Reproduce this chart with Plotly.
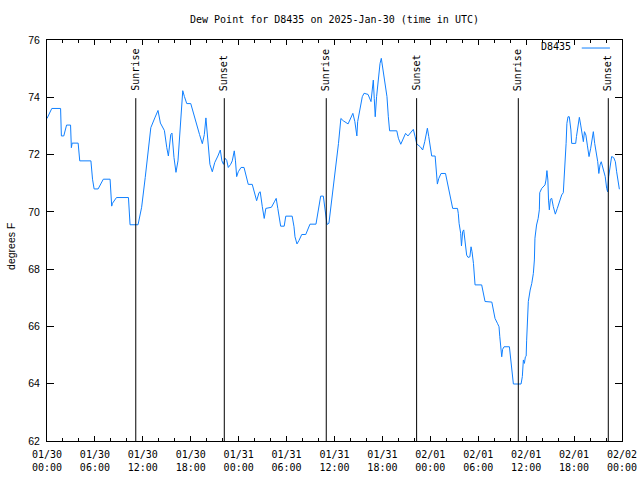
import pandas as pd
import plotly.graph_objects as go

start = pd.Timestamp("2025-01-30 00:00")

# hours after 01/30 00:00 UTC
hours = [
    0.00, 0.60, 1.70, 1.80, 2.10, 2.35, 2.45, 2.95, 3.05, 3.15, 3.90, 4.10, 5.50, 5.70, 5.90,
    6.40, 6.75, 7.05, 7.90, 8.10, 8.20, 8.70, 10.20, 10.40, 11.40, 11.85, 12.30, 12.70, 13.00,
    13.50, 13.90, 14.20, 14.70, 15.00, 15.20, 15.50, 15.65, 15.90, 16.15, 16.40, 16.65, 16.90,
    17.00, 17.20, 17.50, 18.00, 18.30, 18.70, 19.10, 19.45, 19.70, 19.90, 20.00, 20.20, 20.40,
    20.70, 21.00, 21.40, 21.70, 21.90, 22.10, 22.30, 22.50, 22.70, 23.00, 23.20, 23.45, 23.60,
    23.75, 23.95, 24.30, 24.67, 25.00, 25.20, 25.70, 25.96, 26.25, 26.55, 26.70, 26.96, 27.20,
    27.40, 28.10, 28.47, 28.70, 28.90, 29.10, 29.26, 29.70, 29.90, 30.70, 30.93, 31.05, 31.30,
    31.55, 31.90, 32.40, 32.65, 32.93, 33.68, 33.90, 34.06, 34.27, 34.60, 34.80, 34.95, 35.06,
    35.30, 35.64, 35.90, 36.20, 36.50, 36.80, 37.10, 37.70, 38.06, 38.30, 38.55, 38.80, 38.90,
    39.20, 39.48, 39.70, 40.20, 40.57, 40.74, 40.86, 40.98, 41.10, 41.27, 41.50, 41.70, 41.86,
    42.07, 42.30, 42.57, 42.74, 42.90, 43.80, 44.00, 44.30, 44.60, 44.90, 45.20, 45.60, 45.87,
    46.10, 46.30, 46.75, 47.04, 47.30, 47.46, 47.63, 47.80, 47.96, 48.17, 48.60, 48.80, 48.88,
    49.05, 49.34, 49.90, 50.10, 50.40, 50.60, 50.80, 51.40, 51.50, 51.60, 51.80, 51.90, 52.05,
    52.18, 52.35, 52.55, 52.72, 52.95, 53.10, 53.22, 53.40, 53.50, 53.60, 54.43, 54.60, 54.85,
    55.70, 55.90, 56.10, 56.40, 56.60, 56.70, 56.85, 56.94, 57.05, 57.23, 57.90, 58.06, 58.23,
    58.40, 59.36, 59.52, 59.65, 59.78, 59.90, 60.00, 60.06, 60.15, 60.27, 60.50, 60.70, 60.90,
    61.03, 61.10, 61.30, 61.50, 61.65, 61.70, 61.95, 62.36, 62.48, 62.60, 62.72, 62.80, 62.90,
    63.03, 63.20, 63.40, 63.65, 63.90, 64.20, 64.45, 64.65, 64.74, 64.86, 65.00, 65.10, 65.24,
    65.40, 65.60, 65.70, 66.20, 66.30, 66.50, 66.66, 66.83, 67.00, 67.16, 67.30, 67.48, 67.66,
    67.87, 68.08, 68.25, 68.41, 68.58, 68.75, 68.96, 69.10, 69.25, 69.40, 69.58, 69.75, 69.90,
    70.08, 70.20, 70.33, 70.42, 70.50, 70.70, 70.95, 71.17, 71.33, 71.50, 71.67,
]
dew_point = [
    73.26, 73.61, 73.61, 72.65, 72.65, 72.94, 73.03, 73.03, 72.24, 72.40, 72.40, 71.78, 71.78, 71.14, 70.80,
    70.80, 71.00, 71.14, 71.14, 70.20, 70.30, 70.50, 70.50, 69.55, 69.55, 70.16, 71.20, 72.24, 72.94,
    73.28, 73.54, 73.10, 72.84, 72.24, 71.95, 72.70, 72.75, 71.90, 71.38, 71.78, 72.82, 73.98,
    74.23, 74.03, 73.78, 73.78, 73.46, 73.05, 72.70, 72.38, 72.70, 73.28, 72.94, 72.24, 71.66,
    71.40, 71.72, 71.95, 72.16, 71.78, 71.66, 71.87, 71.80, 71.55, 71.66, 71.78, 72.13, 71.78,
    71.23, 71.40, 71.55, 71.55, 71.23, 70.96, 70.96, 70.65, 70.39, 70.67, 70.70, 70.18, 69.77,
    70.12, 70.16, 70.35, 70.47, 70.12, 69.71, 69.50, 69.50, 69.85, 69.85, 69.48, 69.13, 68.88,
    69.00, 69.21, 69.21, 69.36, 69.57, 69.57, 69.95, 70.18, 70.55, 70.55, 70.18, 69.83, 69.56,
    69.60, 70.35, 70.88, 71.58, 72.39, 73.26, 73.18, 73.07, 73.26, 73.44, 73.15, 72.65, 73.15,
    73.67, 74.02, 74.14, 74.10, 73.85, 74.37, 74.60, 73.95, 73.32, 74.02, 74.72, 75.18, 75.36,
    74.95, 74.49, 74.02, 73.32, 72.83, 72.83, 72.57, 72.36, 72.57, 72.74, 72.65, 72.80, 72.88,
    72.62, 72.37, 72.27, 72.16, 72.45, 72.74, 72.92, 72.63, 72.28, 71.95, 71.95, 71.23, 70.97,
    71.16, 71.34, 71.34, 71.05, 70.70, 70.41, 70.12, 70.12, 69.95, 69.60, 69.25, 68.81, 69.31,
    69.37, 68.96, 68.49, 68.41, 68.43, 68.78, 68.61, 68.20, 67.91, 67.45, 67.45, 67.16, 66.87,
    66.85, 66.57, 66.28, 66.11, 65.99, 65.64, 65.20, 64.94, 65.20, 65.29, 65.29, 64.83, 64.48,
    63.99, 63.99, 64.25, 64.83, 64.71, 64.94, 64.96, 65.52, 66.22, 66.87, 67.27, 67.50, 67.85,
    68.32, 69.08, 69.54, 69.77, 70.07, 70.67, 70.82, 70.94, 71.11, 71.44, 71.11, 70.41, 70.07,
    70.44, 70.47, 70.18, 69.92, 70.12, 70.41, 70.59, 70.67, 71.05, 71.69, 72.39, 73.09, 73.32,
    73.32, 72.86, 72.39, 72.39, 72.63, 73.03, 73.30, 73.03, 72.74, 72.45, 72.80, 72.68, 72.33,
    71.93, 72.22, 72.63, 72.80, 72.39, 72.16, 71.75, 71.34, 71.64, 71.75, 71.55, 71.40, 71.23,
    70.82, 70.70, 71.23, 71.40, 71.69, 71.93, 71.90, 71.75, 71.40, 71.05, 70.79,
]

sun_times = ["2025-01-30 11:07", "2025-01-30 22:12", "2025-01-31 10:58",
             "2025-01-31 22:17", "2025-02-01 11:01", "2025-02-01 22:17"]
sun_labels = ["Sunrise", "Sunset", "Sunrise", "Sunset", "Sunrise", "Sunset"]

y_ticks = [62, 64, 66, 68, 70, 72, 74, 76]

times = [start + pd.Timedelta(hours=h) for h in hours]

mono = "DejaVu Sans Mono"
sans = "Liberation Sans"

fig = go.Figure()
fig.add_trace(go.Scatter(x=times, y=dew_point, mode="lines",
                         line=dict(color="#1080ff", width=1), name="D8435",
                         showlegend=False))

shapes = []
annotations = []
for t, lab in zip(sun_times, sun_labels):
    shapes.append(dict(type="line", xref="x", yref="paper", x0=t, x1=t, y0=0, y1=0.855,
                       line=dict(color="black", width=1)))
    annotations.append(dict(x=t, xref="x", y=0.868, yref="paper", text=lab,
                            textangle=-90, showarrow=False, xanchor="center", yanchor="bottom",
                            font=dict(family=mono, size=10, color="black")))

# legend key (gnuplot style: text then line sample)
annotations.append(dict(x=0.915, xref="paper", y=0.983, yref="paper", text="D8435",
                        showarrow=False, xanchor="right", yanchor="middle",
                        font=dict(family=mono, size=10, color="black")))
shapes.append(dict(type="line", xref="paper", yref="paper", x0=0.930, x1=0.979,
                   y0=0.980, y1=0.980, line=dict(color="#1080ff", width=1)))

annotations.append(dict(x=-0.0626, xref="paper", y=0.484, yref="paper", text="degrees F",
                        textangle=-90, showarrow=False, xanchor="center", yanchor="middle",
                        font=dict(family=sans, size=10.5, color="black")))

fig.update_layout(
    width=640, height=480,
    margin=dict(l=47, r=18, t=40, b=39),
    paper_bgcolor="white", plot_bgcolor="white",
    title=dict(text="Dew Point for D8435 on 2025-Jan-30 (time in UTC)",
               x=0.5, xref="paper", xanchor="center", y=1 - 19 / 480, yref="container",
               yanchor="middle", font=dict(family=mono, size=10, color="black")),
    shapes=shapes, annotations=annotations,
    showlegend=False,
)
fig.update_xaxes(
    range=["2025-01-30 00:00", "2025-02-02 00:00"],
    tickmode="linear", tick0="2025-01-30 00:00", dtick=6 * 3600 * 1000,
    tickformat="%m/%d<br>%H:%M",
    ticks="inside", ticklen=5, tickcolor="black", tickwidth=1,
    minor=dict(dtick=2 * 3600 * 1000, ticks="inside", ticklen=3, tickcolor="black"),
    showline=True, linecolor="black", linewidth=1, mirror="allticks",
    showgrid=False, zeroline=False, automargin=False, ticklabelstandoff=4,
    tickfont=dict(family=mono, size=10, color="black"),
)
fig.update_yaxes(
    range=[62, 76], tickmode="array", tickvals=y_ticks, ticktext=[str(v) for v in y_ticks],
    ticks="inside", ticklen=7, tickcolor="black", tickwidth=1,
    showline=True, linecolor="black", linewidth=1, mirror="allticks",
    showgrid=False, zeroline=False, automargin=False, ticklabelstandoff=4,
    tickfont=dict(family=sans, size=10.5, color="black"),
)

fig.write_html("out.html")
